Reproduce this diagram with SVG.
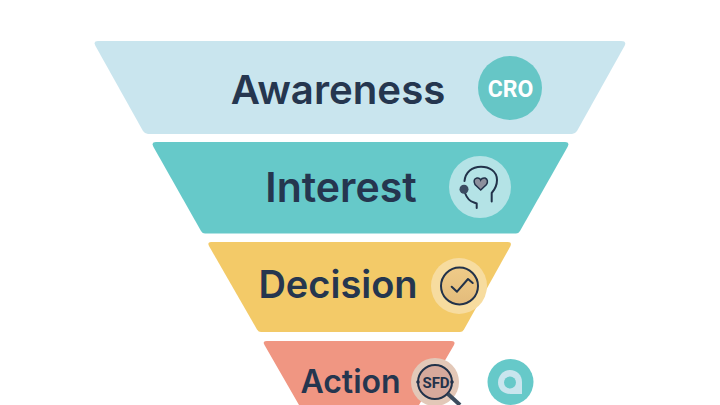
<svg xmlns="http://www.w3.org/2000/svg" width="720" height="405" viewBox="0 0 720 405">
<defs>
<linearGradient id="chk" x1="0" y1="0" x2="0" y2="1"><stop offset="0" stop-color="#efcb88"/><stop offset="1" stop-color="#e3bb7b"/></linearGradient>
</defs>
<style>
.lbl{font-family:Inter,"Liberation Sans",sans-serif;font-weight:600;fill:#25364f}
.ln{fill:none;stroke:#22324a;stroke-linecap:round;stroke-linejoin:round}
</style>
<rect width="720" height="405" fill="#fff"/>
<g id="awareness">
<path d="M98 41H621Q627 41 624.500 46L577 131Q575 134 572 134H148Q145 134 143 131L95.500 46Q93 41 98 41Z" fill="#c9e5ee"/>
<text class="lbl" x="338" y="103.500" font-size="40.200" text-anchor="middle">Awareness</text>
<circle cx="510" cy="88" r="32" fill="#66c6c6"/>
<text x="510.500" y="96.500" font-family="Roboto,'Liberation Sans',sans-serif" font-weight="700" font-size="23" fill="#fff" text-anchor="middle">CRO</text>
</g>
<g id="interest">
<path d="M156 142H565Q570 142 567.500 147L520 231Q518.500 233.500 516 233.500H205Q202.500 233.500 201 231L153.500 147Q151 142 156 142Z" fill="#66c9c9"/>
<text class="lbl" x="341" y="201.500" font-size="41" text-anchor="middle">Interest</text>
<circle cx="480" cy="187" r="31" fill="#b4e3e6"/>
<path class="ln" stroke-width="2" d="M491.700 201.500V193Q497 187 497 180C497 171 489 166.700 481 166.700C472 166.700 465.500 172 464.500 181M465 193Q468 201 474 202.500L476.700 203.500V208"/>
<circle cx="464" cy="189.300" r="4.500" fill="#3c4c62"/>
<path d="M480.700 190L475 184.500Q472.500 179 477 178Q480 177.500 480.700 180Q482 177.500 485 178Q489 180 486.500 184.500Z" fill="#8c8f9c" stroke="#22324a" stroke-width="1.500"/>
</g>
<g id="decision">
<path d="M211 242H508Q512 242 510.500 246L464 329.500Q462.500 332 460 332H261Q258.500 332 257 329.500L209 246Q207 242 211 242Z" fill="#f3ca68"/>
<text class="lbl" x="338" y="298" font-size="38" text-anchor="middle">Decision</text>
<circle cx="459" cy="286" r="28" fill="#f7dc9f"/>
<circle cx="459.500" cy="286" r="18.500" fill="url(#chk)" stroke="#22324a" stroke-width="2"/>
<path class="ln" stroke-width="2" d="M451.700 286.700L457 291.700L468 279L472.700 283"/>
</g>
<g id="action">
<path d="M267 341H451Q456 341 454 345L419 405H299L264.500 345Q262 341 267 341Z" fill="#f09682"/>
<text class="lbl" x="350.500" y="393" font-size="32" text-anchor="middle">Action</text>
<circle cx="435" cy="382" r="24" fill="#e3c8b8"/>
<path d="M448 394L460 405" fill="none" stroke="#3c4c5e" stroke-width="4"/>
<circle cx="435" cy="382" r="17" fill="#d6a99c" stroke="#22324a" stroke-width="2"/>
<circle cx="418" cy="382" r="1.800" fill="#22324a"/>
<circle cx="452" cy="382" r="1.800" fill="#22324a"/>
<text x="436" y="387.500" font-family="Roboto,'Liberation Sans',sans-serif" font-weight="700" font-size="15" fill="#22324a" text-anchor="middle">SFD</text>
</g>
<g id="brand-badge">
<circle cx="510.500" cy="382" r="23" fill="#66c9c9"/>
<path d="M510 370C503 370 498 376 498 382.500C498 389 503 394 510 394L522 394V382C522 375 517 370 510 370Z" fill="#c9e5ee"/>
<circle cx="510" cy="382.500" r="6" fill="#66c9c9"/>
</g>
<g id="connectors"></g>
</svg>
